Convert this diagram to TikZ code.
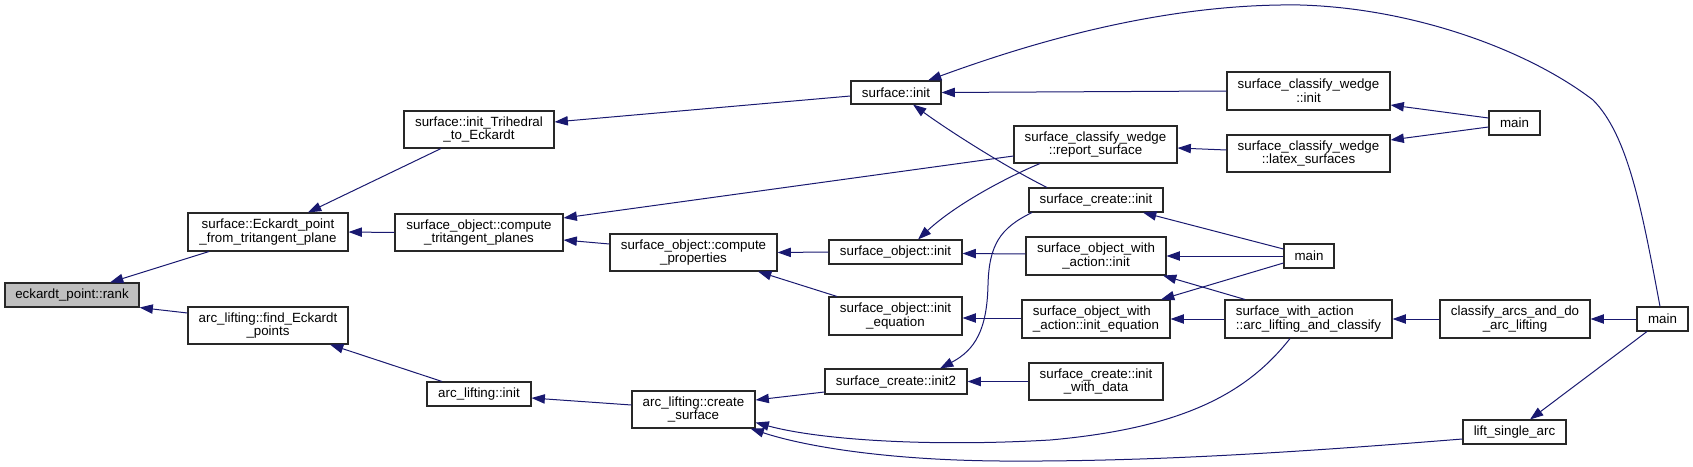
\documentclass[tikz,border=0pt]{standalone}
\usepackage{fontspec}
\setmainfont{Liberation Sans}
\usetikzlibrary{arrows.meta}
\definecolor{edgeblue}{RGB}{25,25,112}
\definecolor{rankgray}{RGB}{191,191,191}
\definecolor{boxline}{RGB}{40,40,40}
\tikzset{
  gbox/.style={draw=boxline, line width=0.8pt, fill=white, inner sep=0pt, align=center,
    font=\fontsize{10pt}{10.3pt}\selectfont},
  edge/.style={draw=edgeblue, line width=0.75pt, -{Triangle[length=10pt,width=7pt]}},
}
\newcommand\gbx[7][]{\node[gbox,#1,minimum width={(#5-#3)*0.75pt},minimum height={(#6-#4)*0.75pt}] (#2) at ({(#3+#5)/2},{(#4+#6)/2}) {#7};}
\begin{document}
\begin{tikzpicture}[x=0.75pt,y=-0.75pt]
\useasboundingbox (0,0) rectangle (1693,467);
% nodes
\gbx[fill=rankgray]{rank}{5}{283}{139}{307}{eckardt\_point::rank}
\gbx{eck}{188}{213}{348}{251}{surface::Eckardt\_point\\\_from\_tritangent\_plane}
\gbx{find}{188}{307}{348}{344}{arc\_lifting::find\_Eckardt\\\_points}
\gbx{tri}{404}{111}{554}{148}{surface::init\_Trihedral\\\_to\_Eckardt}
\gbx{tang}{395}{214}{563}{251}{surface\_object::compute\\\_tritangent\_planes}
\gbx{ainit}{427}{382}{531}{406}{arc\_lifting::init}
\gbx{prop}{610}{234}{777}{271}{surface\_object::compute\\\_properties}
\gbx{csurf}{632}{391}{755}{428}{arc\_lifting::create\\\_surface}
\gbx{sinit}{851}{81}{941}{104}{surface::init}
\gbx{soinit}{829}{240}{962}{264}{surface\_object::init}
\gbx{soeq}{829}{297}{962}{335}{surface\_object::init\\\_equation}
\gbx{init2}{825}{369}{967}{394}{surface\_create::init2}
\gbx{report}{1014}{126}{1177}{163}{surface\_classify\_wedge\\::report\_surface}
\gbx{scinit}{1029}{188}{1163}{212}{surface\_create::init}
\gbx{wainit}{1026}{237}{1166}{275}{surface\_object\_with\\\_action::init}
\gbx[align=left]{waeq}{1022}{300}{1170}{338}{surface\_object\_with\\\_action::init\_equation}
\gbx{wdata}{1029}{363}{1163}{400}{surface\_create::init\\\_with\_data}
\gbx{cwinit}{1227}{72}{1390}{110}{surface\_classify\_wedge\\::init}
\gbx{latex}{1227}{135}{1390}{172}{surface\_classify\_wedge\\::latex\_surfaces}
\gbx{mainb}{1284}{244}{1334}{268}{main}
\gbx[align=left]{alac}{1225}{300}{1392}{338}{surface\_with\_action\\::arc\_lifting\_and\_classify}
\gbx{maina}{1489}{111}{1540}{135}{main}
\gbx{carcs}{1440}{300}{1590}{338}{classify\_arcs\_and\_do\\\_arc\_lifting}
\gbx{lift}{1463}{420}{1566}{444}{lift\_single\_arc}
\gbx{mainc}{1637}{307}{1688}{331}{main}
% edges
\draw[edge] ([shift={(-59,0)}]eck.south) -- ([shift={(38,0)}]rank.north);
\draw[edge] ([shift={(0,-12.5)}]find.west) -- (rank.south east);
\draw[edge] ([shift={(-38,0)}]tri.south) -- ([shift={(40,0)}]eck.north);
\draw[edge] (tang.west) -- (eck.east);
\draw[edge] ([shift={(-37,0)}]ainit.north) -- ([shift={(62,0)}]find.south);
\draw[edge] ([shift={(0,3.5)}]sinit.west) -- ([shift={(0,-7.5)}]tri.east);
\draw[edge] ([shift={(0,11.5)}]report.west) -- ([shift={(0,-14.5)}]tang.east);
\draw[edge] ([shift={(0,-8.5)}]prop.west) -- ([shift={(0,7.5)}]tang.east);
\draw[edge] (soinit.west) -- (prop.east);
\draw[edge] ([shift={(-58.5,0)}]soeq.north) -- ([shift={(64.5,0)}]prop.south);
\draw[edge] ([shift={(0,-4.5)}]csurf.west) -- ([shift={(0,4)}]ainit.east);
\draw[edge] (cwinit.west) -- (sinit.east);
\draw[edge] ([shift={(-2.5,0)}]mainc.north) .. controls (1642,210) and (1628,135) .. (1593,100)
  .. controls (1525,48) and (1410,8) .. (1300,5) .. controls (1160,3) and (1025,45) .. ([shift={(32,0)}]sinit.north);
\draw[edge] ([shift={(-49,0)}]scinit.north) .. controls (1002,165) and (945,128) .. ([shift={(17,0)}]sinit.south);
\draw[edge] ([shift={(0,-3.5)}]latex.west) -- ([shift={(0,3.5)}]report.east);
\draw[edge] ([shift={(-55.5,0)}]report.south) .. controls (1005,178) and (955,205) .. ([shift={(22.5,0)}]soinit.north);
\draw[edge] ([shift={(0,-5)}]maina.west) -- ([shift={(0,14)}]cwinit.east);
\draw[edge] ([shift={(0,4)}]maina.west) -- ([shift={(0,-13.5)}]latex.east);
\draw[edge] ([shift={(0,-7)}]mainb.west) -- ([shift={(47,0)}]scinit.south);
\draw[edge] (mainb.west) -- (wainit.east);
\draw[edge] ([shift={(0,7)}]mainb.west) -- ([shift={(65,0)}]waeq.north);
\draw[edge] ([shift={(-63.5,0)}]alac.north) -- ([shift={(67,0)}]wainit.south);
\draw[edge] ([shift={(0,-2)}]wainit.west) -- ([shift={(0,1.5)}]soinit.east);
\draw[edge] ([shift={(0,-1)}]waeq.west) -- ([shift={(0,2)}]soeq.east);
\draw[edge] (alac.west) -- (waeq.east);
\draw[edge] (carcs.west) -- (alac.east);
\draw[edge] (mainc.west) -- (carcs.east);
\draw[edge] ([shift={(-15.5,0)}]mainc.south) -- ([shift={(15.5,0)}]lift.north);
\draw[edge] ([shift={(0,10.5)}]init2.west) -- ([shift={(0,-9.5)}]csurf.east);
\draw[edge] (wdata.west) -- (init2.east);
\draw[edge] ([shift={(-64,0)}]scinit.south) .. controls (1000,228) and (989,245) .. (988,285)
  .. controls (987,330) and (975,350) .. ([shift={(44,0)}]init2.north);
\draw[edge] ([shift={(-18.5,0)}]alac.south) .. controls (1248,392) and (1185,428) .. (1050,440)
  .. controls (930,447) and (820,440) .. ([shift={(0,13)}]csurf.east);
\draw[edge] ([shift={(0,7)}]lift.west) .. controls (1300,452) and (1150,462) .. (1000,461)
  .. controls (880,460) and (800,445) .. ([shift={(-5,0)}]csurf.south east);
\end{tikzpicture}
\end{document}
